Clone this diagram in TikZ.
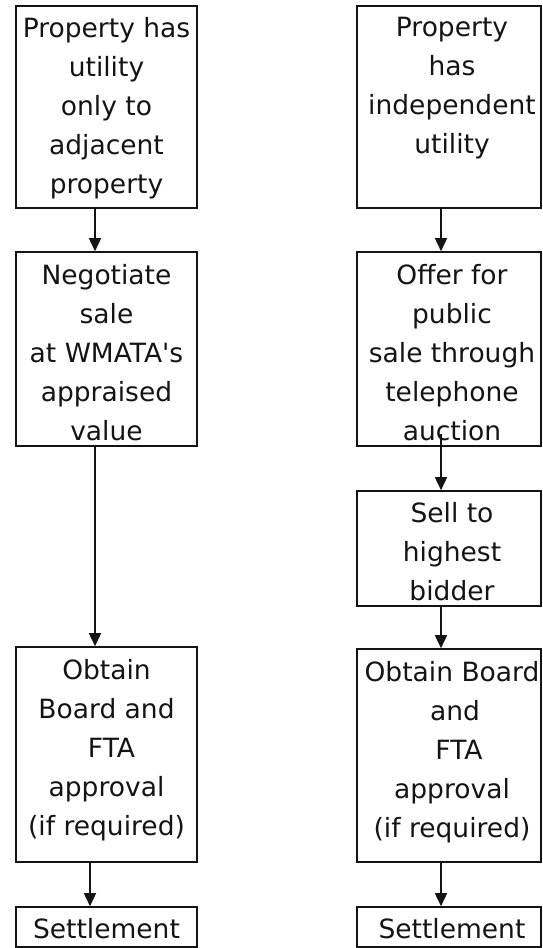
\documentclass[tikz,border=0pt]{standalone}
\usepackage{fontspec}
\setmainfont{DejaVu Sans}[Ligatures=TeXOff]
\usetikzlibrary{arrows.meta}
\definecolor{ink}{HTML}{141414}
\begin{document}
\begin{tikzpicture}[x=1pt,y=-1pt,
  box/.style={draw=ink, line width=1.6pt, inner sep=0pt, fill=none},
  txt/.style={anchor=north, align=center, inner sep=0pt, text=ink,
    font=\fontsize{26.5}{39}\selectfont},
  arr/.style={draw=ink, line width=1.6pt, -{Triangle[length=13pt,width=12pt]}}]
\useasboundingbox (0,0) rectangle (542,948);
% left column
\node[box, minimum width=181pt, minimum height=202pt] (L1) at (106.5,107) {};
\node[box, minimum width=181pt, minimum height=194pt] (L2) at (106.5,349) {};
\node[box, minimum width=181pt, minimum height=215pt] (L3) at (106.5,754.5) {};
\node[box, minimum width=181pt, minimum height=40pt] (L4) at (106.5,927) {};
% right column
\node[box, minimum width=184pt, minimum height=202pt] (R1) at (449,107) {};
\node[box, minimum width=184pt, minimum height=194pt] (R2) at (449,349) {};
\node[box, minimum width=184pt, minimum height=115pt] (R3) at (449,548.5) {};
\node[box, minimum width=184pt, minimum height=213pt] (R4) at (449,755.5) {};
\node[box, minimum width=184pt, minimum height=40pt] (R5) at (449,927) {};
% texts
\node[txt] (L1t) at ([yshift=-11.5pt]L1.north) {Property has\\utility\\only to\\adjacent\\property};
\node[txt] (L2t) at ([yshift=-12.5pt]L2.north) {Negotiate\\sale\\at WMATA's\\appraised\\value};
\node[txt] (L3t) at ([yshift=-12.5pt]L3.north) {Obtain\\Board and\\\hspace*{10pt}FTA\\approval\\(if required)};
\node[txt] (L4t) at ([yshift=-11.5pt]L4.north) {Settlement};
\node[txt] (R1t) at ([xshift=3pt,yshift=-11.5pt]R1.north) {Property\\has\\independent\\utility};
\node[txt] (R2t) at ([xshift=3pt,yshift=-12.5pt]R2.north) {Offer for\\public\\sale through\\telephone\\auction};
\node[txt] (R3t) at ([xshift=3pt,yshift=-11.5pt]R3.north) {Sell to\\highest\\bidder};
\node[txt] (R4t) at ([xshift=3pt,yshift=-12.5pt]R4.north) {Obtain Board\\\hspace*{6pt}and\\\hspace*{14pt}FTA\\approval\\(if required)};
\node[txt] (R5t) at ([xshift=3pt,yshift=-11.5pt]R5.north) {Settlement};
% arrow columns
\coordinate (la) at (95,0);
\coordinate (lb) at (90,0);
\coordinate (ra) at (441,0);
\draw[arr] (L1.south -| la) -- (L2.north -| la);
\draw[arr] (L2.south -| la) -- (L3.north -| la);
\draw[arr] (L3.south -| lb) -- (L4.north -| lb);
\draw[arr] (R1.south -| ra) -- (R2.north -| ra);
\draw[arr] ([yshift=13pt]R2.south -| ra) -- (R3.north -| ra);
\draw[arr] (R3.south -| ra) -- (R4.north -| ra);
\draw[arr] (R4.south -| ra) -- (R5.north -| ra);
\end{tikzpicture}
\end{document}
